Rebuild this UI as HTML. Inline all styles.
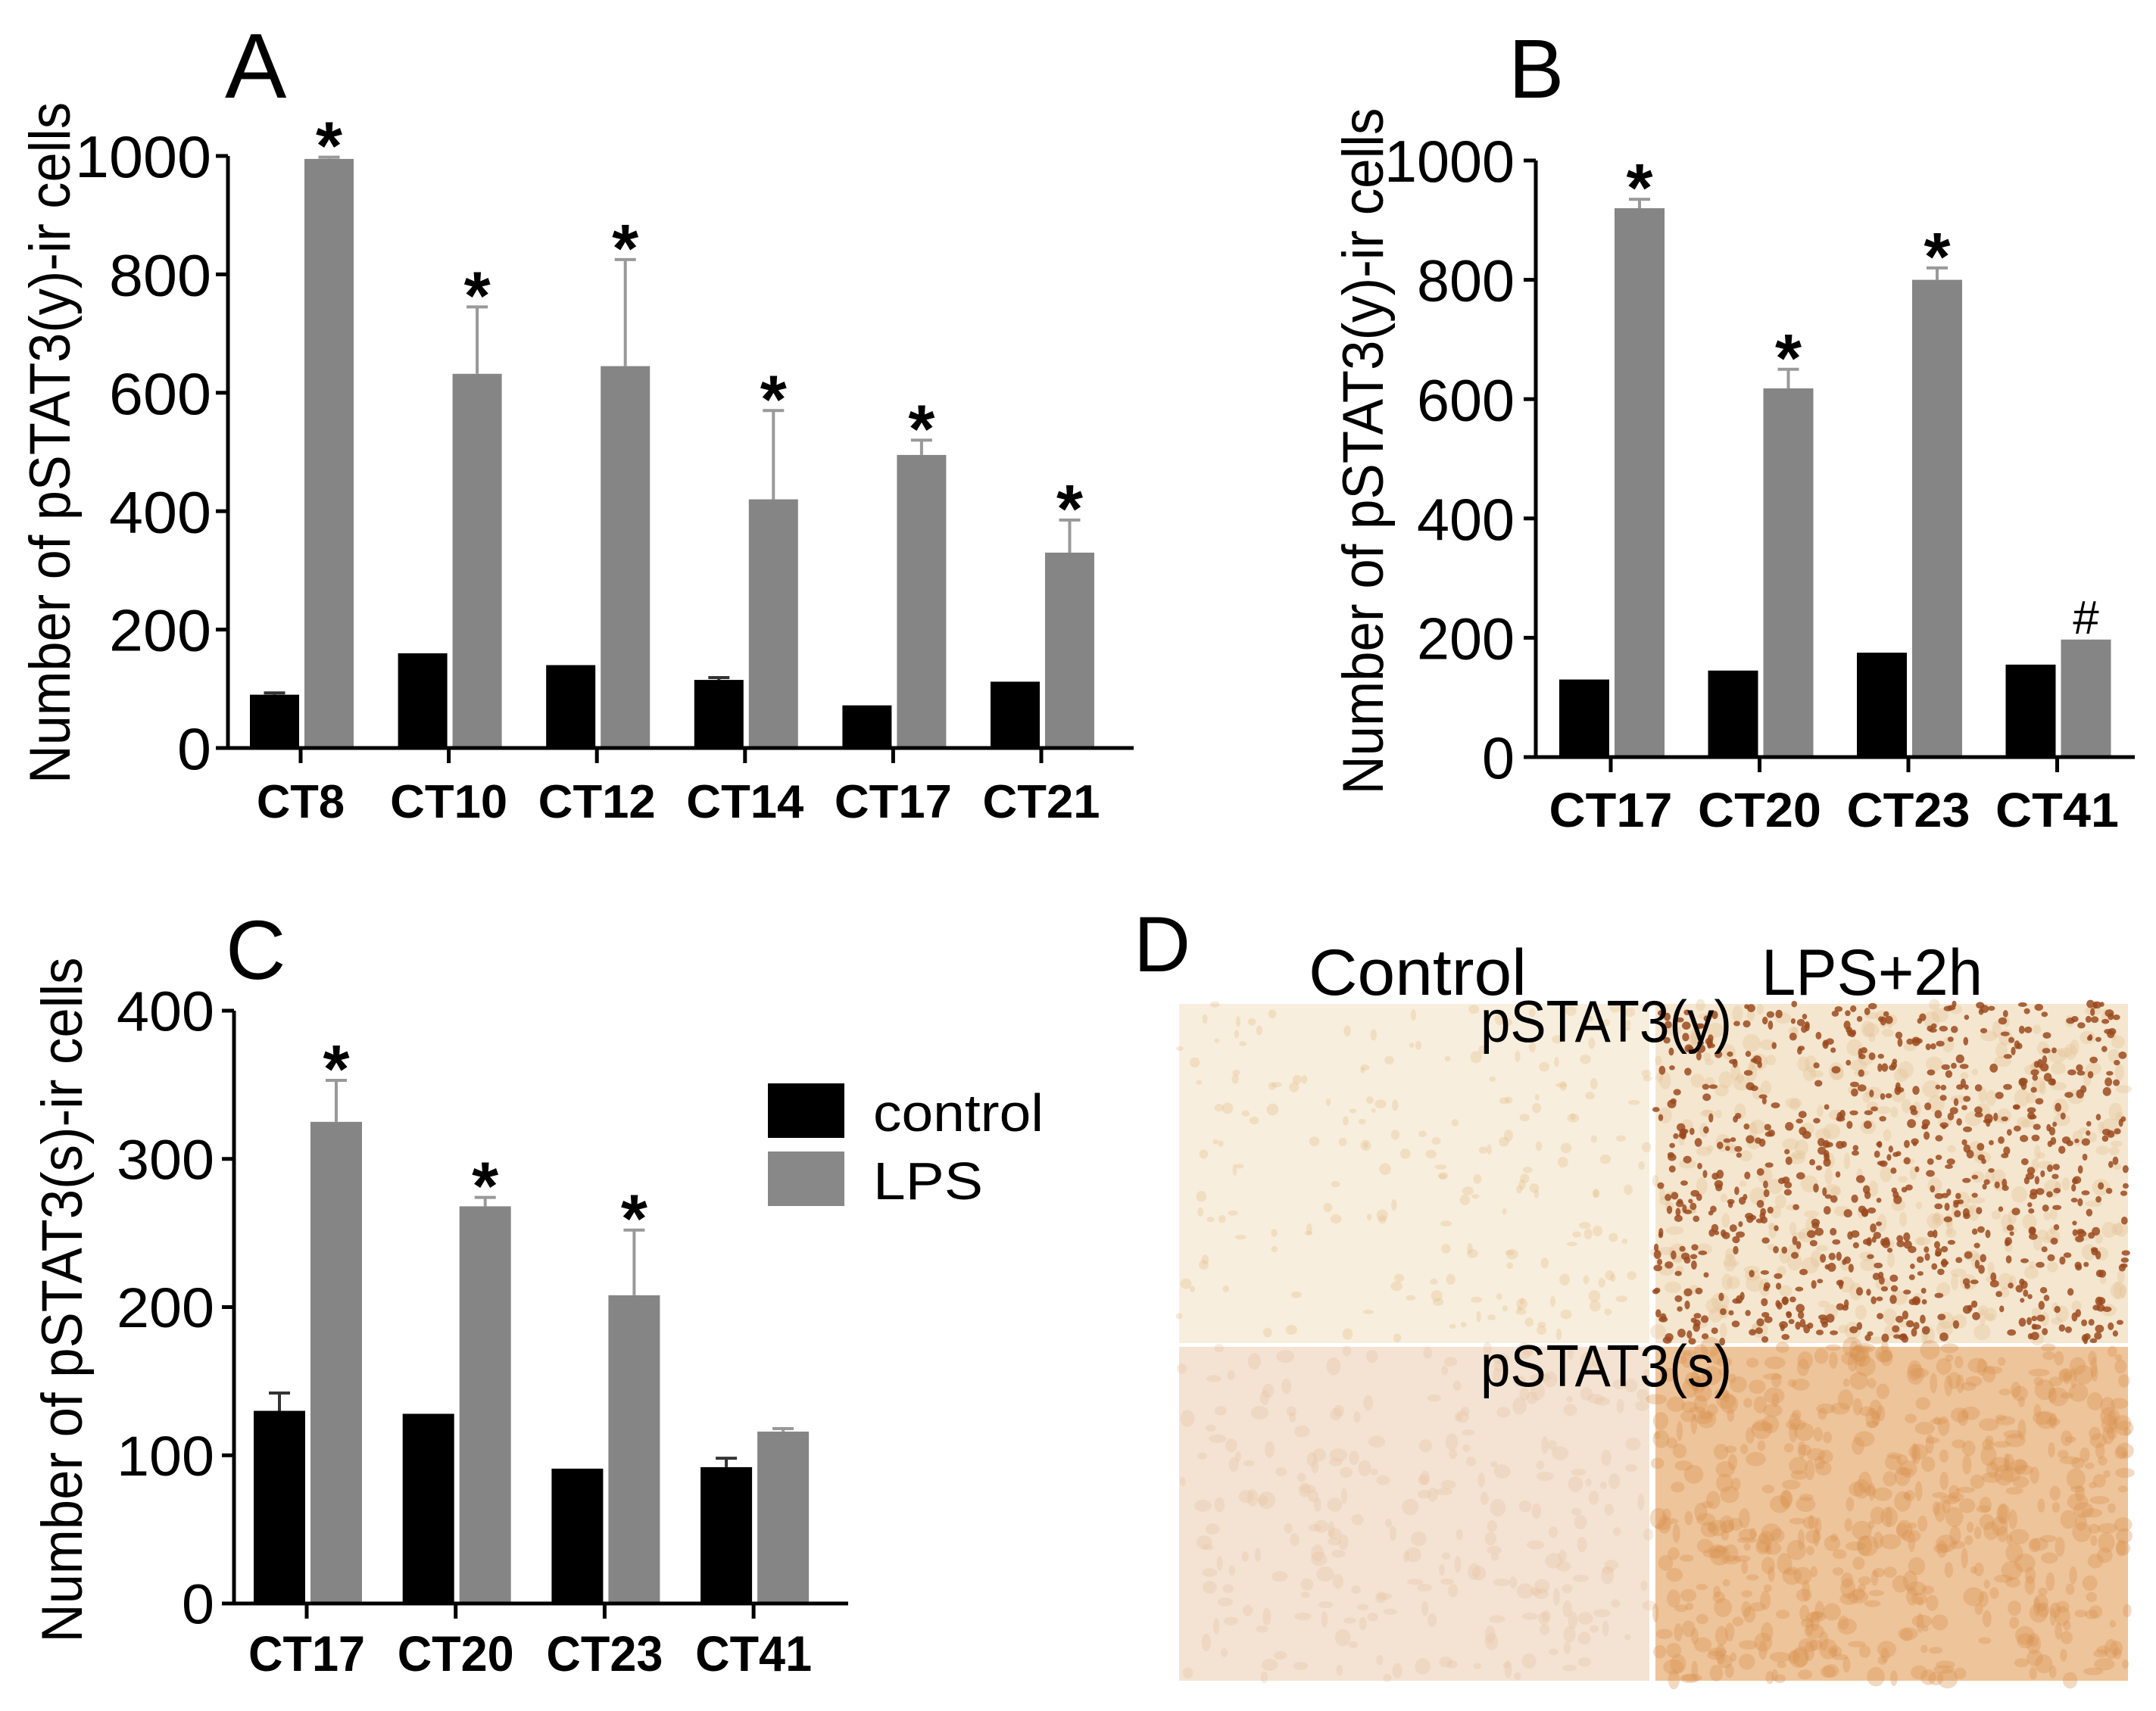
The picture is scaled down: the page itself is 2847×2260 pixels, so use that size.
<!DOCTYPE html>
<html><head><meta charset="utf-8"><style>
html,body{margin:0;padding:0;background:#fff;}
svg{display:block;font-family:"Liberation Sans",Arial,sans-serif;}
</style></head><body>
<svg id="fig" width="2847" height="2260" viewBox="0 0 2847 2260" xmlns="http://www.w3.org/2000/svg">
<rect x="0" y="0" width="2847" height="2260" fill="#fff"/>
<g id="panelA"></g>
<g id="panelB"></g>
<g id="panelC"></g>
<text x="297" y="129" font-size="122">A</text>
<text x="1992" y="129" font-size="110">B</text>
<text x="298" y="1293" font-size="110">C</text>
<g>
<rect x="1014" y="1431" width="101" height="72" fill="#000"/>
<text x="1153" y="1494" font-size="70" textLength="225" lengthAdjust="spacingAndGlyphs">control</text>
<rect x="1014" y="1521" width="101" height="72" fill="#888"/>
<text x="1153" y="1584" font-size="70" textLength="145" lengthAdjust="spacingAndGlyphs">LPS</text>
</g>
<g id="panelD">
<text x="1497" y="1283" font-size="104">D</text>
<rect x="1557" y="1326" width="621" height="448" fill="#f8eedd"/>
<rect x="2186" y="1326" width="624" height="448" fill="#f5e6cf"/>
<rect x="1557" y="1779" width="621" height="441" fill="#f4e3d3"/>
<rect x="2186" y="1779" width="624" height="441" fill="#eec49a"/>
<g id="texture"></g>
<text x="1728" y="1314" font-size="86" textLength="288" lengthAdjust="spacingAndGlyphs">Control</text>
<text x="2326" y="1314" font-size="86" textLength="292" lengthAdjust="spacingAndGlyphs">LPS+2h</text>
<text x="1955" y="1376" font-size="78" textLength="332" lengthAdjust="spacingAndGlyphs">pSTAT3(y)</text>
<text x="1955" y="1831" font-size="78" textLength="332" lengthAdjust="spacingAndGlyphs">pSTAT3(s)</text>
</g>
</svg>
<script>
// Panel A data
const catsA = ["CT8","CT10","CT12","CT14","CT17","CT21"];
const ctrlA = [90,160,140,115,72,112];
const ctrlErrA = [3,0,0,4,0,0];
const lpsA = [995,632,645,420,495,330];
const lpsErrA = [3,113,180,150,25,55];
const markA = ["*","*","*","*","*","*"];
const ticksA = [0,200,400,600,800,1000];
// Panel B data
const catsB = ["CT17","CT20","CT23","CT41"];
const ctrlB = [130,145,175,155];
const ctrlErrB = [0,0,0,0];
const lpsB = [920,618,800,197];
const lpsErrB = [15,32,20,0];
const markB = ["*","*","*","#"];
const ticksB = [0,200,400,600,800,1000];
// Panel C data
const catsC = ["CT17","CT20","CT23","CT41"];
const ctrlC = [130,128,91,92];
const ctrlErrC = [12,0,0,6];
const lpsC = [325,268,208,116];
const lpsErrC = [28,6,44,2];
const markC = ["*","*","*",""];
const ticksC = [0,100,200,300,400];

const NS="http://www.w3.org/2000/svg";
function mk(parent,tag,attrs){const e=document.createElementNS(NS,tag);for(const k in attrs)e.setAttribute(k,attrs[k]);parent.appendChild(e);return e;}

function drawChart(g,cfg,cats,ctrl,ctrlErr,lps,lpsErr,marks,ticks){
  const ymax=ticks[ticks.length-1];
  const yS=v=>cfg.y0-(cfg.y0-cfg.yTop)*v/ymax;
  const xS=i=>cfg.t0+cfg.step*i;
  cats.forEach((c,i)=>{
    const t=xS(i);
    const r1=mk(g,"rect",{x:t-cfg.bw-2,y:yS(ctrl[i]),width:cfg.bw,height:cfg.y0-yS(ctrl[i]),fill:"#000"});
    
    
    if(ctrlErr[i]>0){
      const cx=t-cfg.bw/2-2;
      const e=mk(g,"path",{d:`M${cx},${yS(ctrl[i])}V${yS(ctrl[i]+ctrlErr[i])}M${cx-14},${yS(ctrl[i]+ctrlErr[i])}H${cx+14}`,stroke:"#333",["stroke-width"]:4,fill:"none"});
      
      
    }
    const r2=mk(g,"rect",{x:t+5,y:yS(lps[i]),width:cfg.bw,height:cfg.y0-yS(lps[i]),fill:"#858585"});
    
    
    const lx=t+5+cfg.bw/2;
    let top=yS(lps[i]);
    if(lpsErr[i]>0){
      top=yS(lps[i]+lpsErr[i]);
      const e=mk(g,"path",{d:`M${lx},${yS(lps[i])}V${top}M${lx-14},${top}H${lx+14}`,stroke:"#999",["stroke-width"]:4,fill:"none"});
      
      
    }
    if(marks[i]){
      const isHash=marks[i]==="#";
      const s=mk(g,"text",{x:lx,y:isHash?top-8:top+16,["text-anchor"]:"middle",["font-size"]:isHash?62:90,["font-weight"]:isHash?"normal":"bold"});
      s.textContent=marks[i];
      
      
    }
    const tk=mk(g,"line",{x1:t,x2:t,y1:cfg.y0,y2:cfg.y0+20,stroke:"#000",["stroke-width"]:5});
    
    
    const lb=mk(g,"text",{x:t,y:cfg.labY,["text-anchor"]:"middle",["font-size"]:cfg.labFs,["font-weight"]:"bold",textLength:cfg.labW*c.length/4,lengthAdjust:"spacingAndGlyphs"});
    lb.textContent=c;
    
    
  });
  const ax=mk(g,"path",{d:`M${cfg.ax},${cfg.yTop}V${cfg.y0}H${cfg.xEnd}`,stroke:"#000",["stroke-width"]:5,fill:"none"});
  
  
  ticks.forEach(v=>{
    const y=yS(v);
    const tl=mk(g,"line",{x1:cfg.ax-16,x2:cfg.ax,y1:y,y2:y,stroke:"#000",["stroke-width"]:5});
    
    
    const s=String(v);
    const tx=mk(g,"text",{x:cfg.ax-cfg.gap,y:y+cfg.tickFs*0.36,["text-anchor"]:"end",["font-size"]:cfg.tickFs,textLength:cfg.digW*s.length,lengthAdjust:"spacingAndGlyphs"});
    tx.textContent=s;
    
    
  });
  const tt=mk(g,"text",{x:0,y:0,["text-anchor"]:"middle",["font-size"]:cfg.titleFs,textLength:cfg.titleLen,lengthAdjust:"spacingAndGlyphs",transform:`translate(${cfg.titleX},${cfg.titleY}) rotate(-90)`});
  tt.textContent=cfg.title;
  
  
}

drawChart(document.getElementById("panelA"),{ax:301,y0:988,yTop:206,xEnd:1497,t0:397,step:195.6,bw:65,labY:1080,labFs:62,labW:155,tickFs:78,digW:45,gap:22,titleFs:76,titleLen:900,titleX:92,titleY:585,title:"Number of pSTAT3(y)-ir cells"},catsA,ctrlA,ctrlErrA,lpsA,lpsErrA,markA,ticksA);
drawChart(document.getElementById("panelB"),{ax:2028,y0:1000,yTop:212,xEnd:2819,t0:2127,step:196.5,bw:66,labY:1092,labFs:64,labW:163,tickFs:78,digW:43,gap:28,titleFs:76,titleLen:907,titleX:1826,titleY:596,title:"Number of pSTAT3(y)-ir cells"},catsB,ctrlB,ctrlErrB,lpsB,lpsErrB,markB,ticksB);
drawChart(document.getElementById("panelC"),{ax:309,y0:2118,yTop:1335,xEnd:1120,t0:405,step:196.7,bw:68,labY:2207,labFs:66,labW:154,tickFs:74,digW:43,gap:26,titleFs:76,titleLen:905,titleX:108,titleY:1717,title:"Number of pSTAT3(s)-ir cells"},catsC,ctrlC,ctrlErrC,lpsC,lpsErrC,markC,ticksC);

// micrograph texture (decorative)
const tex=document.getElementById("texture");
let seed=7;function rnd(){seed=(seed*16807)%2147483647;return seed/2147483647;}
function blobs(x,y,w,h,n,col,rmin,rmax,op){
  for(let i=0;i<n;i++){
    mk(tex,"ellipse",{cx:x+rnd()*w,cy:y+rnd()*h,rx:rmin+rnd()*(rmax-rmin),ry:rmin+rnd()*(rmax-rmin),fill:col,["fill-opacity"]:op});
  }
}
blobs(1557,1326,621,448,200,"#e2b880",3,8,0.3);
blobs(2186,1326,624,448,350,"#e3bf92",4,12,0.35);
blobs(2186,1326,624,448,800,"#9b4a1e",3,6,0.85);
blobs(1557,1779,621,441,260,"#e3bfa0",4,12,0.3);
blobs(2186,1779,624,441,600,"#d8924f",4,14,0.35);
</script>
</body></html>
